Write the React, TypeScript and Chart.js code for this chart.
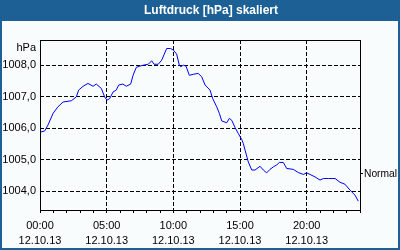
import React, { useEffect, useRef } from "react";
import { Chart, registerables } from "chart.js";

Chart.register(...registerables);

const TITLE = "Luftdruck [hPa] skaliert";
const UNIT = "hPa";
const DATE_LABEL = "12.10.13";
const NORMAL_LABEL = "Normal";
const NORMAL_VALUE = 1004.55;
const Y_TICKS = [1004, 1005, 1006, 1007, 1008];
const X_LABEL_HOURS = [0, 5, 10, 15, 20];

const HOURS = [
  0, 0.35, 0.6, 0.98, 1.35, 1.73, 2.35, 2.72, 2.9, 3.23, 3.6, 3.98, 4.22, 4.6, 4.85, 5.02,
  5.23, 5.48, 5.72, 5.9, 6.22, 6.47, 6.8, 6.98, 7.22, 7.48, 7.75, 8.12, 8.38, 8.55, 8.87,
  9.13, 9.5, 9.8, 10.0, 10.25, 10.45, 10.55, 10.75, 10.95, 11.2, 11.5, 11.87, 12.13, 12.38,
  12.75, 12.95, 13.25, 13.45, 13.63, 14.0, 14.2, 14.38, 14.63, 14.87, 15.13, 15.25, 15.38,
  15.62, 15.88, 16.13, 16.5, 16.75, 17.0, 17.25, 17.5, 17.75, 17.95, 18.25, 18.5, 19.0,
  19.37, 19.75, 20.0, 20.25, 20.63, 21.0, 21.25, 21.62, 22.13, 22.5, 22.87, 23.25, 23.63, 23.87,
];

const PRESSURE = [
  1005.87, 1005.91, 1006.1, 1006.47, 1006.68, 1006.83, 1006.87, 1006.99, 1007.21, 1007.33,
  1007.42, 1007.33, 1007.4, 1007.26, 1006.99, 1006.89, 1006.94, 1007.15, 1007.21, 1007.37,
  1007.4, 1007.33, 1007.4, 1007.68, 1007.93, 1007.97, 1008.0, 1008.03, 1008.14, 1008.03,
  1008.03, 1008.16, 1008.53, 1008.53, 1008.48, 1008.35, 1008.0, 1007.95, 1008.0, 1007.97,
  1007.68, 1007.71, 1007.74, 1007.63, 1007.37, 1007.21, 1006.94, 1006.68, 1006.47, 1006.23,
  1006.17, 1006.31, 1006.25, 1006.02, 1005.83, 1005.64, 1005.51, 1005.3, 1004.93, 1004.67,
  1004.67, 1004.79, 1004.67, 1004.58, 1004.69, 1004.77, 1004.83, 1004.91, 1004.91, 1004.72,
  1004.69, 1004.59, 1004.53, 1004.58, 1004.53, 1004.45, 1004.35, 1004.4, 1004.4, 1004.4,
  1004.28, 1004.22, 1004.03, 1003.87, 1003.68,
];

const BAR_COLOR = "#1d6096";
const BG_COLOR = "#f8fcfc";
const FONT = '"Liberation Sans", Arial, sans-serif';

const decorPlugin = {
  id: "decor",
  beforeDraw(chart: any) {
    const { ctx, width, height } = chart;
    ctx.save();
    ctx.fillStyle = BG_COLOR;
    ctx.fillRect(0, 0, width, height);
    ctx.restore();
  },
  afterDraw(chart: any) {
    const { ctx, width, height, chartArea } = chart;
    const { left, top, right, bottom } = chartArea;
    ctx.save();
    ctx.strokeStyle = "#000";
    ctx.lineWidth = 1;
    ctx.setLineDash([]);
    ctx.strokeRect(
      Math.round(left) + 0.5,
      Math.round(top) + 0.5,
      Math.round(right - left),
      Math.round(bottom - top)
    );
    ctx.fillStyle = BAR_COLOR;
    ctx.fillRect(0, 0, width, 21);
    ctx.fillRect(0, 0, 2, height);
    ctx.fillRect(width - 2, 0, 2, height);
    ctx.fillRect(0, height - 2, width, 2);
    ctx.fillStyle = "#fff";
    ctx.font = "bold 12px " + FONT;
    ctx.textAlign = "center";
    ctx.textBaseline = "alphabetic";
    ctx.fillText(TITLE, 211, 14);
    ctx.fillStyle = "#000";
    ctx.font = "11px " + FONT;
    ctx.textAlign = "right";
    ctx.fillText(UNIT, 36, 51);
    ctx.restore();
  },
};

const pad = (n: number) => (n < 10 ? "0" + n : String(n));

export default function App() {
  const ref = useRef<HTMLCanvasElement | null>(null);

  useEffect(() => {
    if (!ref.current) return;
    const points = HOURS.map((h, i) => ({ x: h, y: PRESSURE[i] }));
    const chart = new Chart(ref.current, {
      type: "line",
      data: {
        datasets: [
          {
            data: points,
            borderColor: "#0000ff",
            borderWidth: 1,
            pointRadius: 0,
            tension: 0,
            fill: false,
          },
        ],
      },
      plugins: [decorPlugin],
      options: {
        animation: false,
        responsive: false,
        devicePixelRatio: 1,
        layout: { padding: { top: 40, left: 0, right: 0, bottom: 0 } },
        plugins: {
          legend: { display: false },
          tooltip: { enabled: false },
          title: { display: false },
        },
        scales: {
          x: {
            type: "linear",
            min: 0,
            max: 24,
            afterFit: (s: any) => {
              s.height = 40;
            },
            afterBuildTicks: (s: any) => {
              const t = [];
              for (let h = 0; h <= 24; h++) t.push({ value: h });
              s.ticks = t;
            },
            ticks: {
              autoSkip: false,
              maxRotation: 0,
              minRotation: 0,
              padding: 5,
              color: "#000",
              font: { family: FONT, size: 11, lineHeight: "15px" },
              callback: (v: any) =>
                X_LABEL_HOURS.includes(Number(v)) ? [pad(Number(v)) + ":00", DATE_LABEL] : "",
            },
            grid: {
              color: (c: any) =>
                c.tick && X_LABEL_HOURS.includes(c.tick.value) && c.tick.value !== 0
                  ? "#000"
                  : "rgba(0,0,0,0)",
              tickColor: "#000",
              tickLength: 3,
              tickWidth: 1,
              lineWidth: 1,
              tickBorderDash: [],
            },
            border: { display: false, dash: [4, 2] },
          },
          y: {
            type: "linear",
            position: "left",
            min: 1003.4,
            max: 1008.8,
            afterFit: (s: any) => {
              s.width = 40;
            },
            afterBuildTicks: (s: any) => {
              s.ticks = Y_TICKS.map((v) => ({ value: v }));
            },
            ticks: {
              padding: 4,
              color: "#000",
              font: { family: FONT, size: 11 },
              callback: (v: any) => Number(v).toFixed(1).replace(".", ","),
            },
            grid: {
              color: "#000",
              drawTicks: false,
              lineWidth: 1,
            },
            border: { display: false, dash: [4, 2] },
          },
          y2: {
            type: "linear",
            position: "right",
            min: 1003.4,
            max: 1008.8,
            afterFit: (s: any) => {
              s.width = 40;
            },
            afterBuildTicks: (s: any) => {
              s.ticks = [{ value: NORMAL_VALUE }];
            },
            ticks: {
              padding: 1,
              color: "#000",
              font: { family: FONT, size: 10.25 },
              callback: () => NORMAL_LABEL,
            },
            grid: {
              drawOnChartArea: false,
              color: "#000",
              tickColor: "#000",
              tickLength: 3,
              lineWidth: 1,
            },
            border: { display: false },
          },
        },
      } as any,
    });
    return () => chart.destroy();
  }, []);

  return (
    <div style={{ position: "absolute", left: 0, top: 0, width: 400, height: 250 }}>
      <canvas ref={ref} width={400} height={250} style={{ display: "block" }} />
    </div>
  );
}
